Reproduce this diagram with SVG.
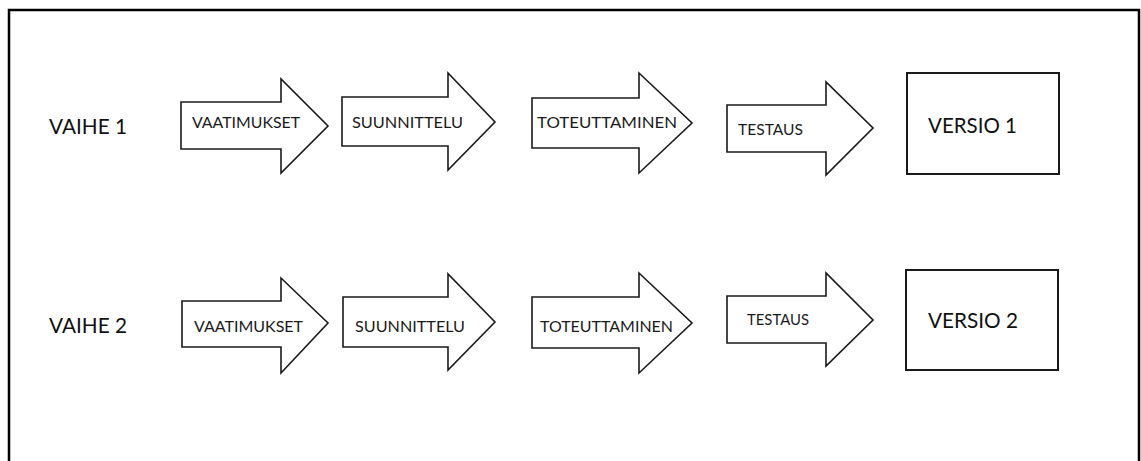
<svg xmlns="http://www.w3.org/2000/svg" width="1141" height="461" viewBox="0 0 1141 461">
<style>
.frame{fill:none;stroke:#000;stroke-width:2.5}
.arrow{fill:#fff;stroke:#1a1a1a;stroke-width:1.6;stroke-linejoin:miter}
.box{fill:#fff;stroke:#1a1a1a;stroke-width:2}
.s{font-family:Lato,"Liberation Sans",sans-serif;font-size:15px;fill:#1a1a1a}
.l{font-family:Lato,"Liberation Sans",sans-serif;font-size:22px;fill:#111}
</style>
<rect width="1141" height="461" fill="#fff"/>
<path class="frame" d="M9,470 V10 H1139 V470"/>
<g id="labels">
<text class="l" x="49" y="134" textLength="78" lengthAdjust="spacingAndGlyphs">VAIHE 1</text>
<text class="l" x="49" y="333" textLength="78" lengthAdjust="spacingAndGlyphs">VAIHE 2</text>
</g>
<g id="connectors"></g>
<g id="r1-vaatimukset">
<polygon class="arrow" points="181,102 281,102 281,79 328,126 281,173 281,149 181,149"/>
<text class="s" x="192" y="128" textLength="108" lengthAdjust="spacingAndGlyphs">VAATIMUKSET</text>
</g>
<g id="r1-suunnittelu">
<polygon class="arrow" points="342,97 448,97 448,73 495,122 448,170 448,146 342,146"/>
<text class="s" x="352" y="128" textLength="111" lengthAdjust="spacingAndGlyphs">SUUNNITTELU</text>
</g>
<g id="r1-toteuttaminen">
<polygon class="arrow" points="532,98 639,98 639,73 692,123 639,173 639,148 532,148"/>
<text class="s" x="537" y="128" textLength="140" lengthAdjust="spacingAndGlyphs">TOTEUTTAMINEN</text>
</g>
<g id="r1-testaus">
<polygon class="arrow" points="727,105 826,105 826,82 873,128 826,175 826,152 727,152"/>
<text class="s" x="738" y="135" textLength="65" lengthAdjust="spacingAndGlyphs">TESTAUS</text>
</g>
<g id="r1-versio">
<rect class="box" x="907" y="73" width="152" height="101"/>
<text class="l" x="928" y="133" textLength="89" lengthAdjust="spacingAndGlyphs">VERSIO 1</text>
</g>
<g id="r2-vaatimukset">
<polygon class="arrow" points="182,301 281,301 281,278 328,323 281,373 281,347 182,347"/>
<text class="s" x="194" y="332" textLength="109" lengthAdjust="spacingAndGlyphs">VAATIMUKSET</text>
</g>
<g id="r2-suunnittelu">
<polygon class="arrow" points="343,297 448,297 448,274 495,322 448,370 448,347 343,347"/>
<text class="s" x="355" y="332" textLength="110" lengthAdjust="spacingAndGlyphs">SUUNNITTELU</text>
</g>
<g id="r2-toteuttaminen">
<polygon class="arrow" points="532,297 639,297 639,273 692,323 639,373 639,348 532,348"/>
<text class="s" x="540" y="332" textLength="133" lengthAdjust="spacingAndGlyphs">TOTEUTTAMINEN</text>
</g>
<g id="r2-testaus">
<polygon class="arrow" points="727,296 826,296 826,273 873,320 826,366 826,343 727,343"/>
<text class="s" x="747" y="325" textLength="62" lengthAdjust="spacingAndGlyphs">TESTAUS</text>
</g>
<g id="r2-versio">
<rect class="box" x="906" y="270" width="152" height="100"/>
<text class="l" x="928" y="328" textLength="90" lengthAdjust="spacingAndGlyphs">VERSIO 2</text>
</g>
</svg>
